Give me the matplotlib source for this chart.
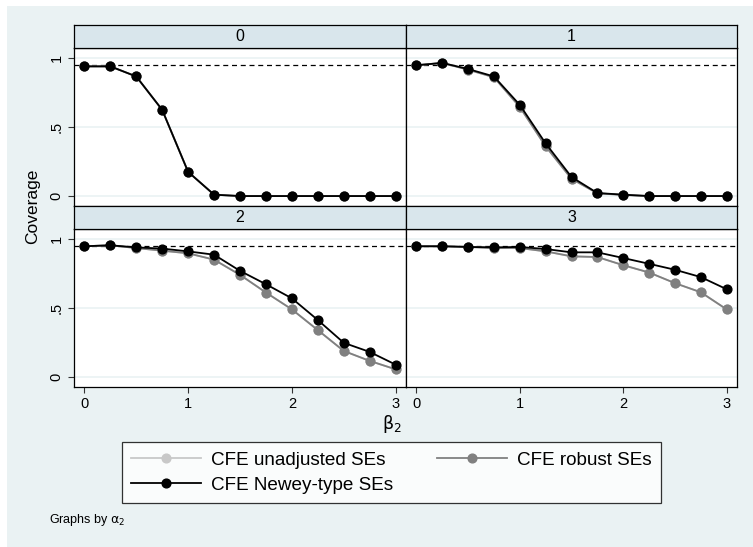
import numpy as np
import matplotlib.pyplot as plt
from matplotlib.lines import Line2D
from matplotlib.patches import Rectangle

plt.rcParams['font.family'] = ['Liberation Sans', 'DejaVu Sans']

# beta_2 grid
beta2 = [0, 0.25, 0.5, 0.75, 1, 1.25, 1.5, 1.75, 2, 2.25, 2.5, 2.75, 3]
alpha2 = ['0', '1', '2', '3']

# coverage, one list per alpha_2 panel
unadj = {
    '0': [0.939, 0.939, 0.866, 0.624, 0.175, 0.01, 0, 0, 0, 0, 0, 0, 0],
    '1': [0.947, 0.964, 0.915, 0.86, 0.645, 0.36, 0.125, 0.02, 0.008, 0, 0, 0, 0],
    '2': [0.947, 0.954, 0.934, 0.915, 0.896, 0.85, 0.74, 0.612, 0.49, 0.34, 0.189, 0.117, 0.056],
    '3': [0.947, 0.947, 0.942, 0.934, 0.934, 0.91, 0.874, 0.869, 0.81, 0.757, 0.68, 0.614, 0.49],
}
robust = {
    '0': [0.939, 0.939, 0.866, 0.624, 0.175, 0.01, 0, 0, 0, 0, 0, 0, 0],
    '1': [0.947, 0.964, 0.915, 0.86, 0.645, 0.36, 0.125, 0.02, 0.008, 0, 0, 0, 0],
    '2': [0.947, 0.954, 0.934, 0.915, 0.896, 0.85, 0.74, 0.612, 0.49, 0.34, 0.189, 0.117, 0.056],
    '3': [0.947, 0.947, 0.942, 0.934, 0.934, 0.91, 0.874, 0.869, 0.81, 0.757, 0.68, 0.614, 0.49],
}
newey = {
    '0': [0.939, 0.939, 0.866, 0.624, 0.175, 0.01, 0, 0, 0, 0, 0, 0, 0],
    '1': [0.947, 0.964, 0.92, 0.866, 0.66, 0.381, 0.138, 0.022, 0.01, 0, 0, 0, 0],
    '2': [0.947, 0.954, 0.939, 0.93, 0.91, 0.886, 0.769, 0.672, 0.57, 0.413, 0.248, 0.182, 0.09],
    '3': [0.947, 0.947, 0.942, 0.939, 0.942, 0.927, 0.903, 0.903, 0.862, 0.82, 0.777, 0.724, 0.636],
}
nominal = 0.95

bg = '#eaf2f3'
strip_col = '#d9e6ec'
c_unadj = '#c8c8c8'
c_rob = '#808080'
c_new = 'black'

W, H = 753, 547
fig = plt.figure(figsize=(W / 100, H / 100), dpi=100)
fig.patches.append(Rectangle((7 / W, 0), 746 / W, 541 / H, transform=fig.transFigure,
                             facecolor=bg, edgecolor='none', zorder=-10))

def fx(px):
    return px / W

def fy(py):
    return 1 - py / H

cols = [(74, 406), (406, 737)]
rows = [(25, 48, 206), (206, 229, 387)]

for k, a in enumerate(alpha2):
    r, c = divmod(k, 2)
    x0, x1 = cols[c]
    s0, p0, p1 = rows[r]

    ax = fig.add_axes([fx(x0), fy(p1), fx(x1 - x0), fy(p0) - fy(p1)])
    ax.set_facecolor('white')
    ax.set_xlim(-0.1, 3.1)
    ax.set_ylim(-0.072, 1.072)
    for y in [0, 0.5, 1]:
        ax.axhline(y, color=bg, lw=1.2, zorder=0)
    ax.axhline(nominal, color='black', lw=0.9, ls=(0, (4, 3)), zorder=1)

    kw = dict(marker='o', ms=6.3, lw=1.3, clip_on=False)
    ax.plot(beta2, unadj[a], color=c_unadj, zorder=2, **kw)
    ax.plot(beta2, robust[a], color=c_rob, zorder=3, **kw)
    ax.plot(beta2, newey[a], color=c_new, zorder=4, **kw)

    ax.set_xticks([0, 1, 2, 3])
    ax.set_yticks([0, 0.5, 1])
    ax.tick_params(direction='out', length=4, width=0.8, color='#333333', labelsize=10.5)
    if r == 1:
        ax.set_xticklabels(['0', '1', '2', '3'])
    else:
        ax.set_xticklabels([])
        ax.tick_params(axis='x', length=0)
    if c == 0:
        ax.set_yticklabels(['0', '.5', '1'], rotation=90, va='center')
    else:
        ax.set_yticklabels([])
        ax.tick_params(axis='y', length=0)
    for sp in ax.spines.values():
        sp.set_linewidth(0.9)

    # strip label on top of the panel
    sax = fig.add_axes([fx(x0), fy(p0), fx(x1 - x0), fy(s0) - fy(p0)])
    sax.set_facecolor(strip_col)
    sax.set_xticks([])
    sax.set_yticks([])
    for sp in sax.spines.values():
        sp.set_linewidth(0.9)
    sax.text(0.5, 0.5, a, ha='center', va='center', fontsize=11.5, transform=sax.transAxes)

fig.text(fx(33), fy(206), 'Coverage', rotation=90, ha='center', va='center', fontsize=12.5)
fig.text(fx(392), fy(424), r'$\mathrm{\beta}_2$', ha='center', va='center', fontsize=12.5,
         family='DejaVu Serif')

handles = [
    Line2D([], [], color=c_unadj, marker='o', ms=6.3, lw=1.3),
    Line2D([], [], color=c_new, marker='o', ms=6.3, lw=1.3),
    Line2D([], [], color=c_rob, marker='o', ms=6.3, lw=1.3),
]
labels = ['CFE unadjusted SEs', 'CFE Newey-type SEs', 'CFE robust SEs']
leg = fig.legend(handles, labels, ncol=2, loc='center', bbox_to_anchor=(fx(391.5), fy(472.5)),
                 fontsize=13.6, frameon=True, fancybox=False, edgecolor='black',
                 handlelength=3.7, columnspacing=2.3, handletextpad=0.55, borderpad=0.5,
                 labelspacing=0.4, borderaxespad=0)
leg.get_frame().set_linewidth(0.9)

fig.text(fx(49), fy(520), r'Graphs by $\mathrm{\alpha}_2$', ha='left', va='center', fontsize=9)

fig.savefig('out.png', dpi=100)
